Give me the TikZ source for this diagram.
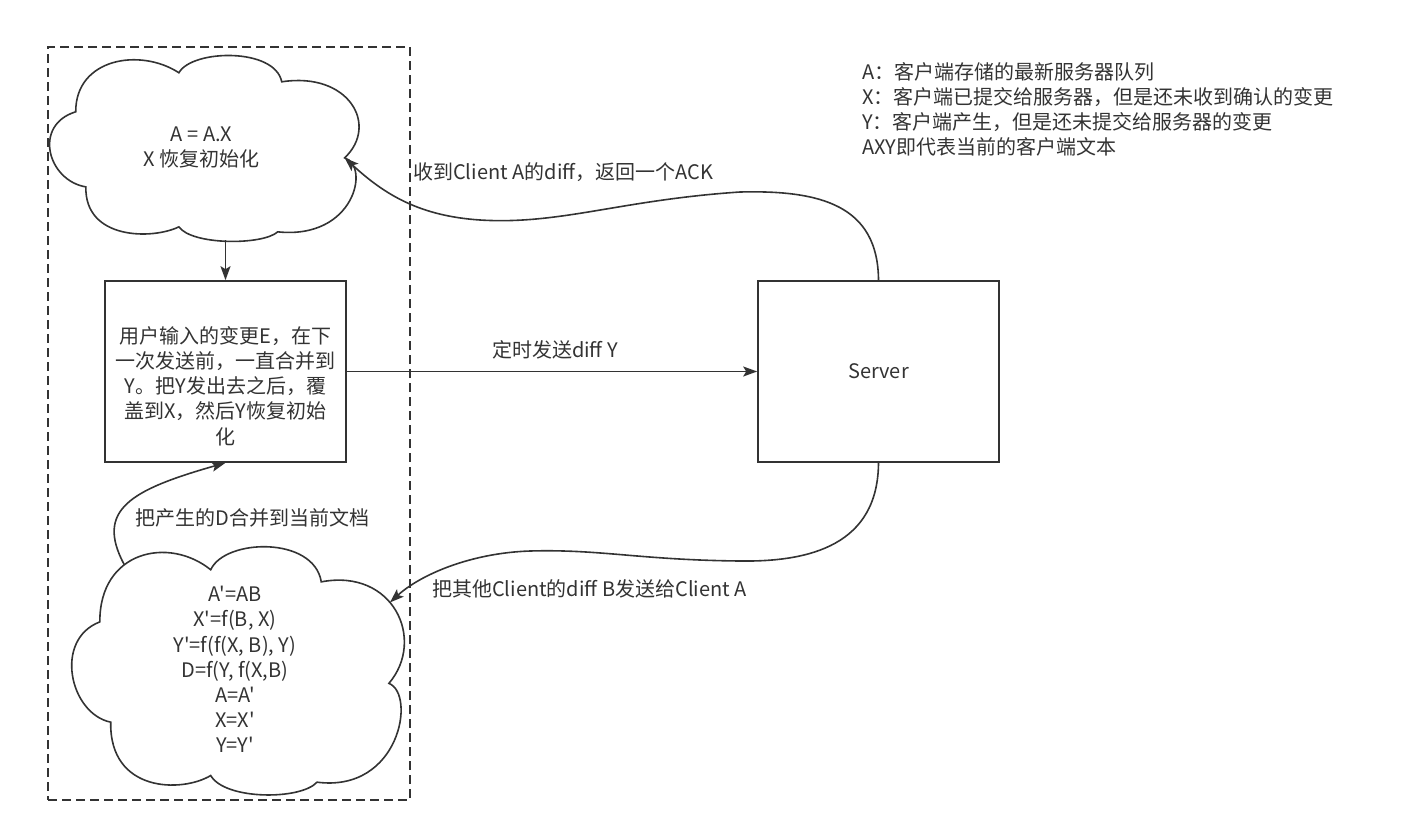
\documentclass[tikz,border=0pt]{standalone}
\usepackage{fontspec}
\setmainfont{Noto Sans CJK SC}[Ligatures=TeXOff]
\usetikzlibrary{arrows.meta}
\definecolor{ink}{HTML}{333333}
% Cloud outline, drawn in the unit square of the node's bounding box
% (#1 = node name, #2 = width, #3 = height, in pt)
\newcommand{\drawcloud}[3]{%
  \draw[cloudline, shift={(#1.north west)}, x=#2pt, y=-#3pt]
    (0.124,0.714) .. controls (0.0,0.68) and (-0.05,0.38) .. (0.091,0.308)
    .. controls (0.09,0.02) and (0.30,-0.04) .. (0.427,0.097) coordinate[pos=0.38] (#1-tl)
    .. controls (0.47,-0.03) and (0.74,-0.04) .. (0.762,0.146)
    .. controls (0.98,0.09) and (1.08,0.38) .. (0.967,0.557) coordinate[pos=0.43] (#1-ru) coordinate (#1-rc)
    .. controls (1.05,0.60) and (1.0,1.0) .. (0.749,0.957)
    .. controls (0.70,1.03) and (0.47,1.03) .. (0.427,0.930)
    .. controls (0.34,1.0) and (0.12,1.0) .. (0.124,0.714) -- cycle;}
\begin{document}
\begin{tikzpicture}[x=1pt, y=-1pt,
  every node/.style={text=ink, font=\fontsize{20}{25.2}\selectfont},
  box/.style={draw=ink, line width=1.6pt, minimum width=241pt, minimum height=181pt, inner sep=0pt},
  cloudbox/.style={inner sep=0pt, align=center},
  framebox/.style={draw=ink, line width=1.6pt, dash pattern=on 9pt off 5pt,
    minimum width=362pt, minimum height=753pt, inner sep=0pt},
  cloudline/.style={draw=ink, line width=1.6pt},
  conn/.style={draw=ink, line width=1.6pt, -{Stealth[length=14pt,width=10pt,inset=3pt]}},
  txt/.style={inner sep=0pt, align=center}]
\useasboundingbox (0,0) rectangle (1419,833);

% client side frame
\node[framebox] (frame) at (229,423.5) {};

% clouds
\node[cloudbox, minimum width=307pt, minimum height=185pt] (cloudA) at (201.5,147.5)
  {A = A.X\\X 恢复初始化};
\drawcloud{cloudA}{307}{185}

\node[cloudbox, minimum width=330pt, minimum height=247pt] (cloudB) at (235,669.5)
  {A'=AB\\X'=f(B, X)\\Y'=f(f(X, B), Y)\\D=f(Y, f(X,B)\\A=A'\\X=X'\\Y=Y'};
\drawcloud{cloudB}{330}{247}

% boxes
\node[box] (input) at (225.5,371.5) {};
\node[txt] (inputtext) at ([yshift=-14.5pt]input.center)
  {用户输入的变更E，在下\\一次发送前，一直合并到\\Y。把Y发出去之后，覆\\盖到X，然后Y恢复初始\\化};
\node[box] (server) at (878.5,371.5) {Server};

% legend
\node[txt, align=left, anchor=north west] (legend) at (862,62)
  {A：客户端存储的最新服务器队列\\X：客户端已提交给服务器，但是还未收到确认的变更\\Y：客户端产生，但是还未提交给服务器的变更\\AXY即代表当前的客户端文本};

% connectors
\draw[conn] (cloudA.south -| input.north) -- (input.north);
\draw[conn] (input.east) -- (server.west);
\draw[conn] (server.north) .. controls (878,205) and (820,190) .. (740,192)
  .. controls (620,200) and (560,225) .. (480,220)
  .. controls (420,216) and (385,195) .. (cloudA-rc);
\draw[conn] (server.south) .. controls (878,545) and (810,562) .. (740,561)
  .. controls (640,560) and (600,549) .. (530,551)
  .. controls (470,553) and (420,575) .. (cloudB-ru);
\draw[conn] (cloudB-tl) .. controls (95,510) and (130,490) .. (input.south);

% connector labels
\node[txt] (sendlabel) at (555,350) {定时发送diff Y};
\node[txt, anchor=west] (acklabel) at (413,172) {收到Client A的diff，返回一个ACK};
\node[txt, anchor=west] (pushlabel) at (432,589) {把其他Client的diff B发送给Client A};
\node[txt] (mergelabel) at (252.5,518) {把产生的D合并到当前文档};
\end{tikzpicture}
\end{document}
